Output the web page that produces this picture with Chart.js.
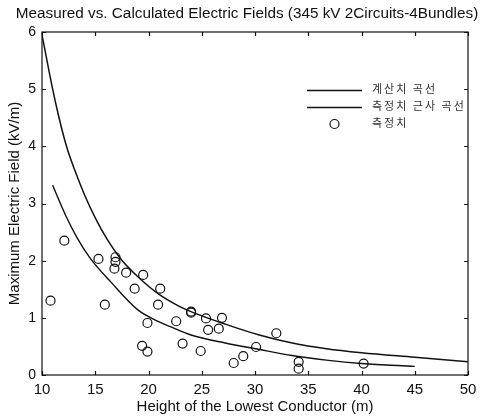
<!DOCTYPE html>
<html>
<head>
<meta charset="utf-8">
<script src="https://cdn.jsdelivr.net/npm/chart.js@4/dist/chart.umd.min.js"></script>
<style>
  html, body { margin: 0; padding: 0; background: #fff; }
  #c { display: block; }
</style>
</head>
<body>
<canvas id="c" width="485" height="416"></canvas>
<script>
// Text
const titleText = 'Measured vs. Calculated Electric Fields (345 kV 2Circuits-4Bundles)';
const xAxisTitle = 'Height of the Lowest Conductor (m)';
const yAxisTitle = 'Maximum Electric Field (kV/m)';
const seriesNames = ['계산치 곡선', '측정치 근사 곡선', '측정치'];

// Calculated curve: conductor height (m) vs. field (kV/m)
const calcHeight = [10, 11, 11.6, 12.3, 13, 14, 15, 16.1, 17.4, 19, 21, 22.8, 24.1, 27.2, 30.4, 33.5, 36.7, 40, 45, 50];
const calcField  = [5.95, 5.0, 4.5, 4.0, 3.62, 3.15, 2.75, 2.38, 2.03, 1.72, 1.41, 1.21, 1.1, 0.89, 0.70, 0.56, 0.46, 0.39, 0.31, 0.23];

// Approximation curve fitted to the measurements
const fitHeight = [11, 12.2, 13.3, 14.5, 16.5, 19, 21, 22, 24, 27.2, 30.3, 33.5, 36.7, 40, 45];
const fitField  = [3.32, 2.8, 2.4, 2.05, 1.62, 1.14, 0.93, 0.85, 0.70, 0.56, 0.45, 0.34, 0.26, 0.20, 0.15];

// Measured values
const measHeight = [10.8, 12.1, 15.3, 15.9, 16.9, 16.9, 16.8, 17.9, 18.7, 19.5, 19.4, 19.9, 19.9, 20.9, 21.1, 22.6, 23.2, 24.0, 24.0, 24.9, 25.4, 25.6, 26.6, 26.9, 28.0, 28.9, 30.1, 32.0, 34.1, 34.1, 40.2];
const measField  = [1.30, 2.35, 2.03, 1.23, 2.06, 1.98, 1.86, 1.79, 1.51, 1.75, 0.51, 0.91, 0.41, 1.23, 1.51, 0.94, 0.55, 1.11, 1.09, 0.42, 0.99, 0.79, 0.81, 1.00, 0.21, 0.33, 0.49, 0.73, 0.23, 0.11, 0.20];

// Axis ranges
const xMin = 10, xMax = 50, xStep = 5;
const yMin = 0, yMax = 6, yStep = 1;

const toPoints = (xs, ys) => xs.map((x, i) => ({ x, y: ys[i] }));
const ink = '#111';
const sans = '"Liberation Sans", Arial, sans-serif';

// Heading, box frame with inward tick marks on all four sides, and in-plot legend
const framePlugin = {
  id: 'frame',
  afterDraw(chart) {
    const { ctx, chartArea: a, scales } = chart;
    const xs = scales.x, ys = scales.y;
    const tl = 4;
    ctx.save();

    // heading
    ctx.fillStyle = ink;
    ctx.font = '15.3px ' + sans;
    ctx.textAlign = 'center';
    ctx.textBaseline = 'middle';
    ctx.fillText(titleText, 247, 14);

    ctx.strokeStyle = ink;
    ctx.lineWidth = 1.2;
    ctx.strokeRect(a.left, a.top, a.right - a.left, a.bottom - a.top);
    ctx.beginPath();
    xs.ticks.forEach(t => {
      const px = Math.round(xs.getPixelForValue(t.value)) + 0.5;
      ctx.moveTo(px, a.bottom); ctx.lineTo(px, a.bottom - tl);
      ctx.moveTo(px, a.top); ctx.lineTo(px, a.top + tl);
    });
    ys.ticks.forEach(t => {
      const py = Math.round(ys.getPixelForValue(t.value)) + 0.5;
      ctx.moveTo(a.left, py); ctx.lineTo(a.left + tl, py);
      ctx.moveTo(a.right, py); ctx.lineTo(a.right - tl, py);
    });
    ctx.stroke();

    // legend
    const ds = chart.data.datasets;
    const lx0 = 307, lx1 = 362, tx = 372;
    const rows = [90, 107, 124];
    ctx.font = '11px "Noto Sans CJK KR"';
    ctx.letterSpacing = '2px';
    ctx.textBaseline = 'middle';
    ctx.textAlign = 'left';
    ds.forEach((d, i) => {
      const y = rows[i];
      ctx.strokeStyle = d.borderColor;
      ctx.lineWidth = d.borderWidth;
      ctx.beginPath();
      if (d.showLine === false) {
        ctx.arc((lx0 + lx1) / 2, y, d.pointRadius, 0, Math.PI * 2);
      } else {
        ctx.moveTo(lx0, y + 0.5); ctx.lineTo(lx1, y + 0.5);
      }
      ctx.stroke();
      ctx.fillStyle = '#333';
      ctx.fillText(d.label, tx, y - 1);
    });
    ctx.restore();
  }
};

new Chart(document.getElementById('c'), {
  type: 'scatter',
  data: {
    datasets: [
      {
        label: seriesNames[0],
        data: toPoints(calcHeight, calcField),
        showLine: true,
        borderColor: ink,
        borderWidth: 1.5,
        pointRadius: 0,
        cubicInterpolationMode: 'monotone',
        fill: false
      },
      {
        label: seriesNames[1],
        data: toPoints(fitHeight, fitField),
        showLine: true,
        borderColor: ink,
        borderWidth: 1.4,
        pointRadius: 0,
        cubicInterpolationMode: 'monotone',
        fill: false
      },
      {
        label: seriesNames[2],
        data: toPoints(measHeight, measField),
        showLine: false,
        borderColor: ink,
        borderWidth: 1.2,
        backgroundColor: 'rgba(0,0,0,0)',
        pointRadius: 4.5,
        pointStyle: 'circle'
      }
    ]
  },
  options: {
    responsive: false,
    animation: false,
    devicePixelRatio: 1,
    layout: { padding: { left: 0, right: 17, top: 32, bottom: 0 } },
    plugins: {
      legend: { display: false },
      tooltip: { enabled: false },
      title: { display: false }
    },
    scales: {
      x: {
        type: 'linear',
        min: xMin, max: xMax,
        grid: { display: false, drawTicks: false },
        border: { display: false },
        ticks: {
          stepSize: xStep,
          padding: 6,
          color: ink,
          font: { family: sans, size: 15 }
        },
        title: {
          display: true,
          text: xAxisTitle,
          color: ink,
          font: { family: sans, size: 15 },
          padding: { top: 0, bottom: 0 }
        },
        afterFit(s) { s.height = 41; }
      },
      y: {
        type: 'linear',
        min: yMin, max: yMax,
        grid: { display: false, drawTicks: false },
        border: { display: false },
        ticks: {
          stepSize: yStep,
          padding: 6,
          color: ink,
          font: { family: sans, size: 14 }
        },
        title: {
          display: true,
          text: yAxisTitle,
          color: ink,
          font: { family: sans, size: 15 },
          padding: { top: 6, bottom: 0 }
        },
        afterFit(s) { s.width = 42; }
      }
    }
  },
  plugins: [framePlugin]
});
</script>
</body>
</html>
